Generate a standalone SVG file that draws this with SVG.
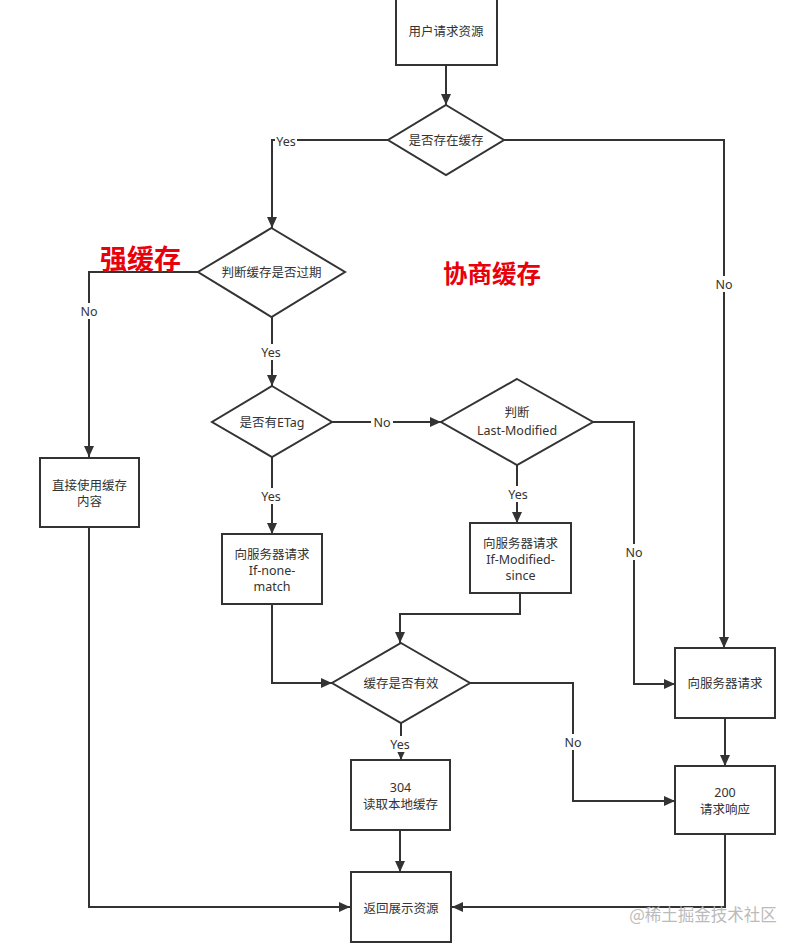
<svg xmlns="http://www.w3.org/2000/svg" width="804" height="949" viewBox="0 0 804 949">
<defs>
<marker id="ah" markerUnits="userSpaceOnUse" markerWidth="12" markerHeight="10" refX="11" refY="5" orient="auto">
<path d="M0,0 L11,5 L0,10 z" fill="#333"/>
</marker>
<style>
.n rect,.n polygon{fill:#fff;stroke:#333;stroke-width:2}
.t{font-family:"Noto Sans","Noto Sans CJK SC",sans-serif;font-size:12.5px;fill:#333;text-anchor:middle;dominant-baseline:central}
.c path{fill:none;stroke:#333;stroke-width:2}
.c .a{marker-end:url(#ah)}
.lb{font-family:"Noto Sans","Noto Sans CJK SC",sans-serif;font-size:12.5px;fill:#333;text-anchor:middle;dominant-baseline:central}
.lbg{fill:#fff}
.red{font-family:"Noto Sans CJK SC","Noto Sans",sans-serif;font-weight:bold;fill:#e8000b;dominant-baseline:central}
</style>
</defs>
<rect width="804" height="949" fill="#fff"/>
<g class="c" id="connectors">
<path class="a" d="M446,65 V105"/>
<path class="a" d="M388,140 H272 V228"/>
<path class="a" d="M504,140 H724 V648"/>
<path class="a" d="M198,272 H89 V457"/>
<path class="a" d="M272,317 V386"/>
<path class="a" d="M332,422 H441"/>
<path class="a" d="M272,457 V534"/>
<path class="a" d="M517,465 V523"/>
<path class="a" d="M593,422 H634 V684 H675"/>
<path class="a" d="M272,604 V683 H332"/>
<path class="a" d="M520,593 V614 H400 V643"/>
<path class="a" d="M470,683 H573 V801 H675"/>
<path class="a" d="M401,723 V760"/>
<path class="a" d="M725,718 V766"/>
<path class="a" d="M400,830 V872"/>
<path class="a" d="M89,527 V907 H350"/>
<path class="a" d="M725,834 V907 H452"/>
<rect class="lbg" x="275" y="133" width="22" height="16"/>
<text class="lb" x="286" y="141">Yes</text>
<rect class="lbg" x="713" y="276" width="22" height="16"/>
<text class="lb" x="724" y="284">No</text>
<rect class="lbg" x="78" y="303" width="22" height="16"/>
<text class="lb" x="89" y="311">No</text>
<rect class="lbg" x="260" y="344" width="24" height="16"/>
<text class="lb" x="271" y="352">Yes</text>
<rect class="lbg" x="371" y="414" width="22" height="16"/>
<text class="lb" x="382" y="422">No</text>
<rect class="lbg" x="260" y="488" width="24" height="16"/>
<text class="lb" x="271" y="496">Yes</text>
<rect class="lbg" x="506" y="486" width="24" height="16"/>
<text class="lb" x="518" y="494">Yes</text>
<rect class="lbg" x="623" y="544" width="22" height="16"/>
<text class="lb" x="634" y="552">No</text>
<rect class="lbg" x="562" y="734" width="22" height="16"/>
<text class="lb" x="573" y="742">No</text>
<rect class="lbg" x="389" y="736" width="24" height="16"/>
<text class="lb" x="400" y="744">Yes</text>
</g>
<g class="n" id="n-request"><rect x="396" y="-2" width="101" height="67"/><text class="t" x="446" y="31">用户请求资源</text></g>
<g class="n" id="n-hascache"><polygon points="446,105 504,140 446,175 388,140"/><text class="t" x="446" y="140">是否存在缓存</text></g>
<g class="n" id="n-expired"><polygon points="271.5,228 345,272 271.5,317 198,272"/><text class="t" x="271.5" y="272">判断缓存是否过期</text></g>
<g class="n" id="n-etag"><polygon points="272,386 332,422 272,457 212,422"/><text class="t" x="272" y="422">是否有ETag</text></g>
<g class="n" id="n-lastmod"><polygon points="517,379 593,422 517,465 441,422"/><text class="t" x="517" y="412">判断</text><text class="t" x="517" y="430">Last-Modified</text></g>
<g class="n" id="n-usecache"><rect x="40" y="458" width="99" height="69"/><text class="t" x="89.5" y="485">直接使用缓存</text><text class="t" x="89.5" y="501">内容</text></g>
<g class="n" id="n-inm"><rect x="222" y="534" width="100" height="70"/><text class="t" x="272" y="554">向服务器请求</text><text class="t" x="272" y="570">If-none-</text><text class="t" x="272" y="586">match</text></g>
<g class="n" id="n-ims"><rect x="470" y="523" width="101" height="70"/><text class="t" x="520.5" y="543">向服务器请求</text><text class="t" x="520.5" y="559">If-Modified-</text><text class="t" x="520.5" y="575">since</text></g>
<g class="n" id="n-valid"><polygon points="401,643 470,683 401,723 332,683"/><text class="t" x="401" y="683">缓存是否有效</text></g>
<g class="n" id="n-server"><rect x="675" y="648" width="100" height="70"/><text class="t" x="725" y="683">向服务器请求</text></g>
<g class="n" id="n-304"><rect x="351" y="760" width="99" height="70"/><text class="t" x="400.5" y="787">304</text><text class="t" x="400.5" y="804">读取本地缓存</text></g>
<g class="n" id="n-200"><rect x="675" y="766" width="100" height="68"/><text class="t" x="725" y="792">200</text><text class="t" x="725" y="809">请求响应</text></g>
<g class="n" id="n-return"><rect x="351" y="872" width="100" height="70"/><text class="t" x="401" y="908">返回展示资源</text></g>
<text class="red" x="100" y="257" font-size="27">强缓存</text>
<text class="red" x="443" y="272" font-size="24.5">协商缓存</text>
<text x="703" y="914" style="font-family:'Noto Sans CJK SC',sans-serif;font-size:16.5px;fill:#bbb;text-anchor:middle;dominant-baseline:central">@稀土掘金技术社区</text>
</svg>
